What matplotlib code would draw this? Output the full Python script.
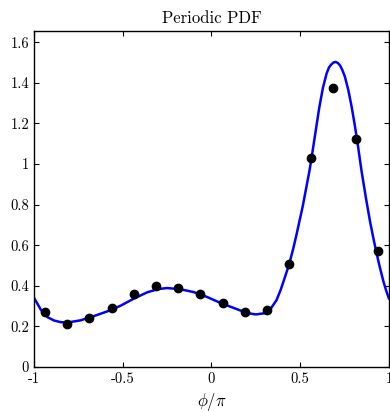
import matplotlib
matplotlib.use("Agg")
import matplotlib.pyplot as plt

# curve (phi/pi, density)
curve_x = [-1.0, -0.962, -0.925, -0.887, -0.85, -0.812, -0.737, -0.662, -0.587,
           -0.512, -0.437, -0.362, -0.30, -0.25, -0.175, -0.10, -0.025, 0.05,
           0.125, 0.20, 0.25, 0.30, 0.33, 0.367, 0.39, 0.413, 0.4375, 0.46, 0.48,
           0.495, 0.514, 0.527, 0.54, 0.553, 0.565, 0.586, 0.607, 0.628, 0.649,
           0.662, 0.675, 0.688, 0.70, 0.713, 0.725, 0.738, 0.752, 0.771, 0.79,
           0.806, 0.821, 0.845, 0.87, 0.893, 0.91, 0.927, 0.945, 0.968, 0.985,
           1.0]
curve_y = [0.341, 0.283, 0.246, 0.229, 0.221, 0.219, 0.230, 0.251, 0.274,
           0.302, 0.337, 0.368, 0.384, 0.389, 0.383, 0.369, 0.345, 0.316,
           0.291, 0.266, 0.259, 0.265, 0.282, 0.33, 0.38, 0.44, 0.505, 0.58,
           0.655, 0.715, 0.79, 0.85, 0.91, 0.97, 1.035, 1.155, 1.275, 1.375,
           1.446, 1.475, 1.49, 1.50, 1.503, 1.497, 1.485, 1.462, 1.43, 1.365,
           1.282, 1.20, 1.118, 0.97, 0.835, 0.72, 0.645, 0.575, 0.505, 0.425,
           0.375, 0.338]

# sampled histogram points
dots_x = [-0.9375, -0.8125, -0.6875, -0.5625, -0.4375, -0.3125, -0.1875, -0.0625,
          0.0625, 0.1875, 0.3125, 0.4375, 0.5625, 0.6875, 0.8125, 0.9375]
dots_y = [0.27, 0.21, 0.24, 0.29, 0.36, 0.40, 0.39, 0.36,
          0.315, 0.27, 0.28, 0.505, 1.03, 1.375, 1.123, 0.573]

xticks = [-1, -0.5, 0, 0.5, 1]
xtick_labels = ["-1", "-0.5", "0", "0.5", "1"]
yticks = [0, 0.2, 0.4, 0.6, 0.8, 1.0, 1.2, 1.4, 1.6]
ytick_labels = ["0", "0.2", "0.4", "0.6", "0.8", "1", "1.2", "1.4", "1.6"]

plt.rcParams["font.family"] = "cmr10"
plt.rcParams["mathtext.fontset"] = "cm"
plt.rcParams["axes.unicode_minus"] = False
plt.rcParams["font.size"] = 10

fig = plt.figure(figsize=(3.9, 4.12), dpi=100)
ax = fig.add_axes([0.0872, 0.1092, 0.910, 0.8155])

ax.plot(curve_x, curve_y, color="#0000ff", lw=1.8, zorder=2,
        solid_joinstyle="round")
ax.plot(dots_x, dots_y, "o", color="black", ms=6, zorder=3)

ax.set_xlim(-1, 1)
ax.set_ylim(0, 1.655)
ax.set_xticks(xticks, xtick_labels)
ax.set_yticks(yticks, ytick_labels)
ax.tick_params(direction="in", top=True, right=True, length=3.5, width=0.8,
               labelsize=10.5)
for s in ax.spines.values():
    s.set_linewidth(1.0)

ax.set_title("Periodic PDF", fontsize=12, pad=6)
ax.set_xlabel(r"$\phi/\pi$", fontsize=12, labelpad=4)

fig.savefig("out.png", dpi=100)
